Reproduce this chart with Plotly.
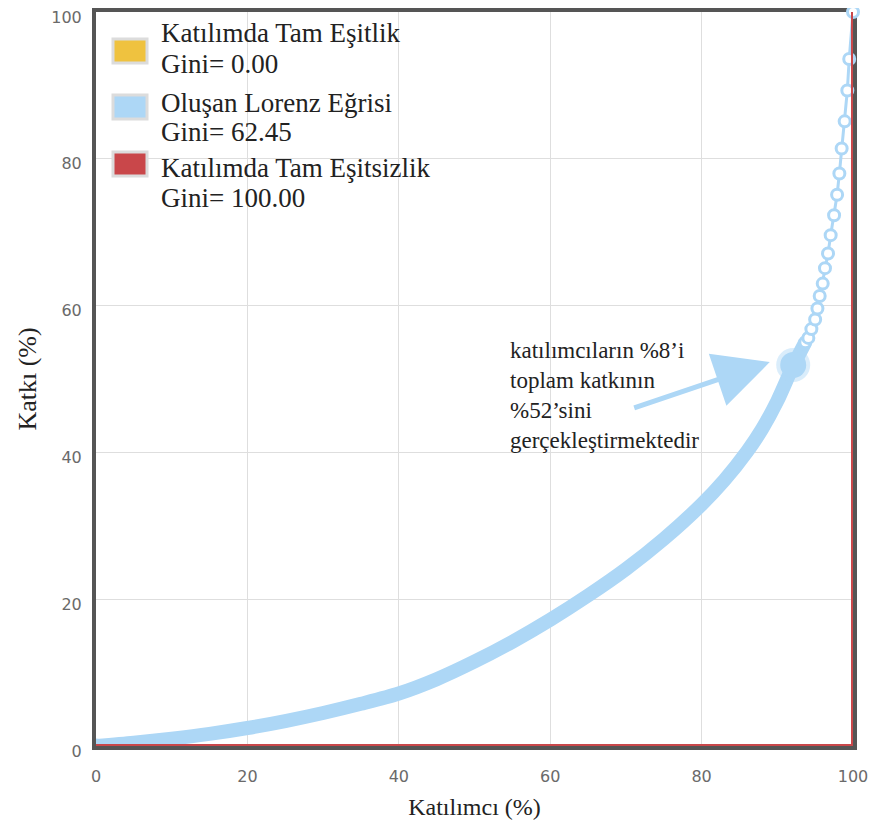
import plotly.graph_objects as go

# ---------------- data ----------------
# dense part of the Lorenz curve (participants %, contribution %)
lorenz_x_dense = [0, 5, 10, 15, 20, 25, 30, 35, 40, 45, 50, 55, 60, 65, 70, 75, 80, 83, 86, 88, 90, 92, 93, 93.7]
lorenz_y_dense = [0, 0.45, 1.0, 1.65, 2.45, 3.4, 4.5, 5.75, 7.15, 9.1, 11.5, 14.2, 17.2, 20.5, 24.1, 28.2, 32.9, 36.2, 40.1, 43.2, 47.0, 51.6, 53.6, 55.0]
# sparse upper part (individual points visible)
lorenz_x_sparse = [93.7, 94.1, 94.5, 95.0, 95.3, 95.6, 96.0, 96.3, 96.7, 97.05, 97.5, 97.9, 98.2, 98.5, 98.9, 99.25, 99.5, 100]
lorenz_y_sparse = [55.0, 55.6, 56.8, 58.1, 59.6, 61.3, 63.0, 65.1, 67.1, 69.6, 72.3, 75.1, 78.0, 81.4, 85.1, 89.3, 93.6, 100]
# highlighted point: 8% of participants -> 52% of contribution
highlight_x = [92.1]
highlight_y = [51.9]
# perfect inequality line
inequality_x = [0, 100, 100]
inequality_y = [0, 0, 100]

legend_names = ["Katılımda Tam Eşitlik", "Oluşan Lorenz Eğrisi", "Katılımda Tam Eşitsizlik"]
legend_gini = ["Gini= 0.00", "Gini= 62.45", "Gini= 100.00"]
legend_colors = ["#efc23f", "#add7f6", "#c9474a"]

tick_vals = [0, 20, 40, 60, 80, 100]
x_title = "Katılımcı (%)"
y_title = "Katkı (%)"
note_text = "katılımcıların %8’i<br>toplam katkının<br>%52’sini<br>gerçekleştirmektedir"
arrow_tail = (70.9, 46.0)
arrow_tip = (89.0, 52.3)

BLUE = "#add7f6"
RED = "#c9474a"
SERIF = "Liberation Serif, Times New Roman, serif"
SANS = "DejaVu Sans, Verdana, sans-serif"

# ---------------- layout geometry ----------------
# the page body has an 8px margin, so the figure is drawn 8px in from the window corner
OFF = 8
W, H = 860, 812
PLOT_LEFT, PLOT_RIGHT, PLOT_TOP, PLOT_BOTTOM = 96, 853, 12, 746   # window pixels
L = PLOT_LEFT - OFF
T = PLOT_TOP - OFF
R = W - (PLOT_RIGHT - OFF)
B = H - (PLOT_BOTTOM - OFF)
PW, PH = PLOT_RIGHT - PLOT_LEFT, PLOT_BOTTOM - PLOT_TOP


def px(xp):
    return (xp - PLOT_LEFT) / PW


def py(yp):
    return (PLOT_BOTTOM - yp) / PH


fig = go.Figure()

# dense band
fig.add_trace(go.Scatter(
    x=lorenz_x_dense, y=lorenz_y_dense, mode="lines",
    line=dict(color=BLUE, width=14, shape="spline", smoothing=0.8),
    showlegend=False, hoverinfo="skip"))
# start cap
fig.add_trace(go.Scatter(
    x=lorenz_x_dense[:1], y=lorenz_y_dense[:1], mode="markers",
    marker=dict(color=BLUE, size=15), showlegend=False, hoverinfo="skip"))
# sparse points
fig.add_trace(go.Scatter(
    x=lorenz_x_sparse, y=lorenz_y_sparse, mode="lines+markers",
    line=dict(color=BLUE, width=3),
    marker=dict(symbol="circle", size=11, color="white", line=dict(color=BLUE, width=3)),
    showlegend=False, name=legend_names[1], cliponaxis=False))
# highlight
fig.add_trace(go.Scatter(
    x=highlight_x, y=highlight_y, mode="markers",
    marker=dict(color=BLUE, size=34, opacity=0.45), showlegend=False, hoverinfo="skip"))
fig.add_trace(go.Scatter(
    x=highlight_x, y=highlight_y, mode="markers",
    marker=dict(color=BLUE, size=26), showlegend=False))
# inequality line
fig.add_trace(go.Scatter(
    x=inequality_x, y=inequality_y, mode="lines",
    line=dict(color=RED, width=4), showlegend=False, name=legend_names[2], cliponaxis=False))

shapes = []
annotations = []

# legend background
shapes.append(dict(type="rect", xref="paper", yref="paper",
                   x0=px(101), x1=px(556), y0=py(212), y1=py(15),
                   fillcolor="white", line=dict(width=0), layer="below"))

swatch_centers = [51, 107, 164]
line1_y = [33, 103, 168]
line2_y = [64, 132, 198]
for i in range(3):
    cy = swatch_centers[i]
    shapes.append(dict(type="rect", xref="paper", yref="paper",
                       x0=px(113), x1=px(147), y0=py(cy + 12), y1=py(cy - 12),
                       fillcolor=legend_colors[i], line=dict(color="#dcdcdc", width=3),
                       layer="above"))
    annotations.append(dict(xref="paper", yref="paper", x=px(159), y=py(line1_y[i]),
                            xanchor="left", yanchor="middle", showarrow=False,
                            text=legend_names[i], font=dict(family=SERIF, size=27, color="#222")))
    annotations.append(dict(xref="paper", yref="paper", x=px(159), y=py(line2_y[i]),
                            xanchor="left", yanchor="middle", showarrow=False,
                            text=legend_gini[i], font=dict(family=SERIF, size=27, color="#222")))

# note text
annotations.append(dict(xref="paper", yref="paper", x=px(508), y=py(336),
                        xanchor="left", yanchor="top", align="left", showarrow=False,
                        text=note_text, font=dict(family=SERIF, size=23, color="#222")))
# arrow
annotations.append(dict(x=arrow_tip[0], y=arrow_tip[1], ax=arrow_tail[0], ay=arrow_tail[1],
                        xref="x", yref="y", axref="x", ayref="y", text="",
                        showarrow=True, arrowhead=2, arrowsize=2.2, arrowwidth=5,
                        arrowcolor=BLUE, standoff=0, startstandoff=0))

axis_common = dict(
    range=[0, 100], tickvals=tick_vals, showgrid=True, gridcolor="#dedede", gridwidth=1,
    zeroline=False, showline=True, linecolor="#555", linewidth=4, mirror=True,
    ticks="", tickfont=dict(family=SANS, size=16, color="#6a6a6a"),
    automargin=False, layer="below traces", ticklabeloverflow="allow",
)

fig.update_layout(
    width=W, height=H,
    margin=dict(l=L, r=R, t=T, b=B, autoexpand=False),
    paper_bgcolor="white", plot_bgcolor="white",
    showlegend=False,
    xaxis=dict(**axis_common, ticklabelstandoff=13,
               title=dict(text=x_title, standoff=14,
                          font=dict(family=SERIF, size=24, color="#222"))),
    yaxis=dict(**axis_common, ticklabelstandoff=7, ticklabelshift=5,
               title=dict(text=y_title, standoff=8,
                          font=dict(family=SERIF, size=26, color="#222"))),
    shapes=shapes,
    annotations=annotations,
)

fig.write_html("out.html")
